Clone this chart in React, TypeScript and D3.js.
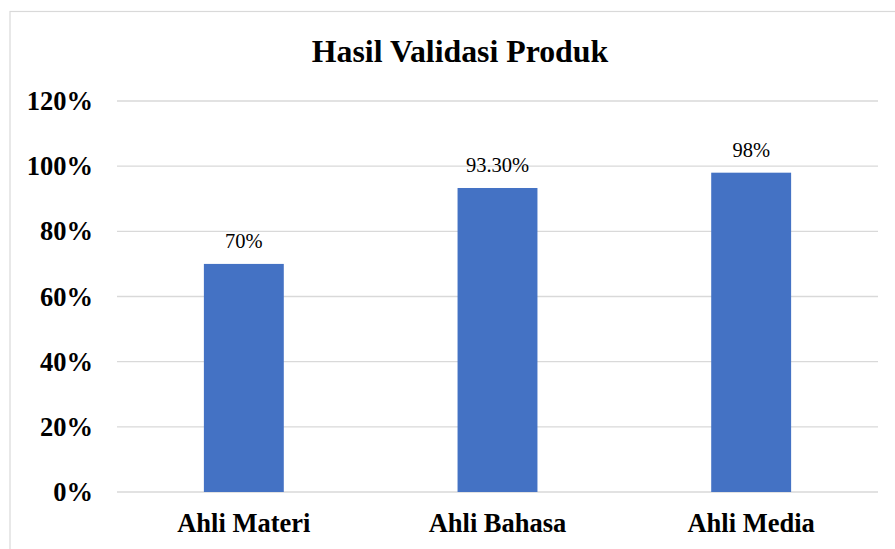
import React from "react";
import * as d3 from "d3";

const title = "Hasil Validasi Produk";
const categories = ["Ahli Materi", "Ahli Bahasa", "Ahli Media"];
const values = [70, 93.3, 98];
const valueLabels = ["70%", "93.30%", "98%"];
const yTicks = [0, 20, 40, 60, 80, 100, 120];

const W = 895;
const H = 549;
const plotLeft = 117;
const plotRight = 878;
const plotTop = 101;
const plotBottom = 492;

export default function App() {
  const x = d3
    .scaleBand<string>()
    .domain(categories)
    .range([plotLeft, plotRight])
    .paddingInner(0.685)
    .paddingOuter(0.3425);
  const y = d3.scaleLinear().domain([0, 120]).range([plotBottom, plotTop]);
  const font = "Liberation Serif";

  return (
    <svg
      width={W}
      height={H}
      style={{ position: "fixed", left: 0, top: 0, background: "#fff", fontFamily: font }}
    >
      <rect x={0} y={0} width={W} height={H} fill="#fff" />
      <rect
        x={10}
        y={11.5}
        width={W + 20}
        height={H + 20}
        fill="none"
        stroke="#d9d9d9"
        strokeWidth={1.2}
      />
      <text
        x={460}
        y={61.5}
        textAnchor="middle"
        fontSize={31.8}
        fontWeight="bold"
        fill="#000"
        fontFamily={font}
      >
        {title}
      </text>
      {yTicks.map((t) => (
        <g key={t}>
          <line
            x1={plotLeft}
            x2={plotRight}
            y1={y(t)}
            y2={y(t)}
            stroke="#d9d9d9"
            strokeWidth={1.3}
          />
          <text
            x={93}
            y={y(t) + 9}
            textAnchor="end"
            fontSize={26.5}
            fontWeight="bold"
            fill="#000"
            fontFamily={font}
          >
            {t}%
          </text>
        </g>
      ))}
      {categories.map((c, i) => (
        <g key={c}>
          <rect
            x={x(c)}
            y={y(values[i])}
            width={x.bandwidth()}
            height={plotBottom - y(values[i])}
            fill="#4472C4"
          />
          <text
            x={(x(c) as number) + x.bandwidth() / 2}
            y={y(values[i]) - 16}
            textAnchor="middle"
            fontSize={20.5}
            fill="#000"
            fontFamily={font}
          >
            {valueLabels[i]}
          </text>
          <text
            x={(x(c) as number) + x.bandwidth() / 2}
            y={531.5}
            textAnchor="middle"
            fontSize={26.5}
            fontWeight="bold"
            fill="#000"
            fontFamily={font}
          >
            {c}
          </text>
        </g>
      ))}
    </svg>
  );
}
